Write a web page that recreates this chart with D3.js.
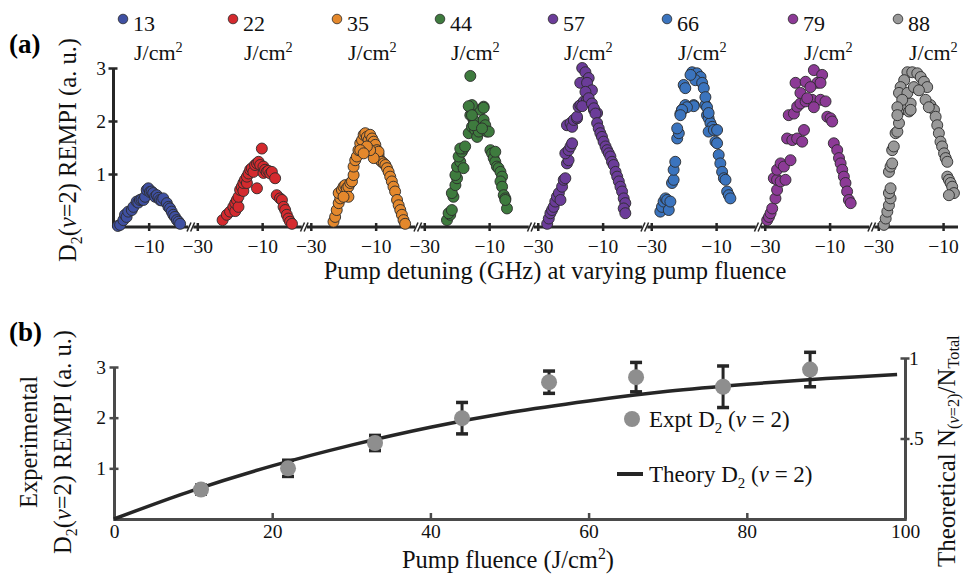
<!DOCTYPE html>
<html>
<head>
<meta charset="utf-8">
<script src="https://cdn.jsdelivr.net/npm/d3@7"></script>
<style>
  body { margin: 0; background: #fff; }
  svg { display: block; font-family: "Liberation Serif", "Times New Roman", serif; }
  svg text { font-family: "Liberation Serif", "Times New Roman", serif; }
</style>
</head>
<body>
<svg id="fig" width="963" height="575"></svg>
<script>
// ---------- Panel (a): REMPI signal vs pump detuning, one scan per fluence ----------
const fluencesA = [13, 22, 35, 44, 57, 66, 79, 88];           // J/cm^2
const detuningTicks = [-30, -10];                              // GHz
const signalTicksA = [1, 2, 3];

// [detuning (GHz), D2(v=2) REMPI (a.u.)]
const scan13 = [[-19.5,0.02],[-18.8,0.04],[-17.8,0.13],[-17.3,0.23],[-16.8,0.19],[-16.3,0.29],[-15.2,0.32],[-14.7,0.38],
  [-13.7,0.48],[-13.2,0.46],[-12.7,0.51],[-12.2,0.52],[-11.6,0.51],[-11.1,0.57],[-10.6,0.70],[-10.1,0.73],[-9.6,0.66],[-9.1,0.67],
  [-8.6,0.64],[-8.0,0.57],[-7.5,0.60],[-7.0,0.55],[-6.5,0.51],[-6.0,0.50],[-5.5,0.54],[-4.4,0.45],[-3.9,0.38],[-3.4,0.35],
  [-2.9,0.29],[-2.4,0.23],[-1.9,0.19],[-1.3,0.13],[-0.8,0.10],[-0.3,0.06]];
const scan22 = [[-22.2,0.13],[-20.9,0.23],[-19.9,0.29],[-18.9,0.38],[-18.3,0.30],[-18.3,0.45],[-17.8,0.51],[-17.3,0.38],[-17.3,0.57],
  [-16.8,0.70],[-16.3,0.76],[-15.8,0.68],[-15.8,0.83],[-15.3,0.89],[-14.7,0.83],[-14.7,0.95],[-14.2,1.01],[-13.7,1.08],[-13.2,1.11],
  [-12.7,1.04],[-11.6,0.73],[-12.2,1.17],[-11.6,1.20],[-11.1,1.23],[-10.6,1.17],[-10.1,1.48],[-9.6,1.14],[-9.6,1.02],[-9.1,1.08],
  [-8.6,1.04],[-8.1,1.06],[-7.5,1.01],[-7.0,1.04],[-6.0,0.92],[-5.5,0.60],[-4.5,0.54],[-3.9,0.51],[-3.4,0.38],[-2.9,0.32],
  [-2.4,0.23],[-1.9,0.16],[-1.4,0.10],[-0.8,0.06]];
const scan35 = [[-23.0,0.10],[-22.5,0.19],[-22.0,0.32],[-21.4,0.45],[-20.9,0.54],[-21.4,0.64],[-20.4,0.70],[-19.9,0.76],[-19.4,0.79],
  [-18.9,0.73],[-18.4,0.76],[-17.8,0.83],[-17.3,0.86],[-18.4,0.57],[-19.9,0.57],[-16.8,0.98],[-16.8,1.14],[-16.3,1.26],[-15.8,1.33],
  [-15.3,1.45],[-14.75,1.58],[-14.2,1.64],[-13.7,1.74],[-13.2,1.77],[-12.7,1.70],[-12.2,1.64],[-11.7,1.74],[-11.1,1.67],[-10.6,1.61],
  [-10.1,1.55],[-9.6,1.45],[-9.1,1.36],[-8.6,1.26],[-9.1,1.42],[-8.1,1.23],[-7.5,1.20],[-7.0,1.17],[-6.5,1.11],[-6.0,1.04],[-5.5,0.95],
  [-5.0,0.86],[-4.5,0.76],[-4.0,0.67],[-3.4,0.51],[-2.9,0.41],[-2.4,0.32],[-1.9,0.23],[-1.4,0.13],[-0.9,0.06],[-10.6,1.30],
  [-11.7,1.45],[-12.7,1.52],[-14.75,1.45],[-13.7,1.39]];
const scan44 = [[-23.0,0.13],[-22.0,0.23],[-22.5,0.26],[-21.5,0.32],[-21.0,0.57],[-21.5,0.64],[-20.4,0.79],[-19.9,0.92],[-20.4,0.98],
  [-19.9,1.14],[-18.9,1.23],[-19.4,1.33],[-18.4,1.42],[-17.9,1.48],[-18.9,1.48],[-17.4,1.52],[-17.9,1.11],[-16.3,1.77],[-15.3,1.89],
  [-14.8,2.02],[-15.8,2.11],[-15.3,2.21],[-14.3,1.83],[-13.7,1.70],[-13.2,1.80],[-14.8,1.92],[-12.7,2.21],[-11.7,2.27],[-11.7,2.02],
  [-11.2,1.92],[-10.7,1.80],[-10.1,1.80],[-12.2,1.86],[-9.6,1.45],[-9.1,1.39],[-8.6,1.30],[-8.1,1.23],[-7.6,1.14],[-7.1,1.11],
  [-6.5,1.04],[-6.0,0.95],[-6.5,0.86],[-6.0,0.76],[-5.5,0.60],[-5.0,0.54],[-4.5,0.35],[-5.0,0.51],[-8.1,1.42],[-15.8,2.85],
  [-15.3,2.30],[-16.3,2.28],[-11.7,2.25],[-15.3,2.11]];
const scan57 = [[-27.1,0.06],[-26.6,0.16],[-26.1,0.26],[-25.6,0.32],[-25.1,0.38],[-24.6,0.48],[-24.1,0.57],[-23.5,0.64],[-23.0,0.51],
  [-22.5,0.76],[-22.0,0.89],[-21.5,0.92],[-21.0,1.20],[-20.5,1.26],[-21.5,1.39],[-20.5,1.45],[-19.9,1.52],[-19.4,1.58],[-21.0,1.92],
  [-19.9,1.96],[-19.4,1.89],[-18.9,2.02],[-17.9,2.05],[-17.9,2.08],[-17.4,2.27],[-16.85,2.30],[-15.8,2.37],[-14.8,2.40],[-16.3,3.00],
  [-15.3,2.92],[-14.3,2.81],[-16.9,2.72],[-14.8,2.72],[-13.3,2.58],[-15.3,2.55],[-14.3,2.43],[-11.7,2.15],[-16.3,2.28],[-12.7,2.21],
  [-13.3,2.33],[-12.7,2.24],[-12.2,2.14],[-11.7,1.96],[-11.2,1.86],[-10.7,1.77],[-10.2,1.70],[-9.7,1.61],[-9.1,1.52],[-8.6,1.45],
  [-8.1,1.39],[-7.6,1.33],[-7.1,1.23],[-6.6,1.17],[-6.0,1.04],[-5.5,0.95],[-5.0,0.86],[-4.5,0.76],[-4.0,0.67],[-3.5,0.54],
  [-3.0,0.45],[-3.5,0.35],[-3.0,0.26]];
const scan66 = [[-27.2,0.29],[-26.7,0.38],[-26.2,0.48],[-25.6,0.54],[-25.1,0.51],[-24.6,0.32],[-24.1,0.48],[-23.6,0.83],[-23.1,0.89],
  [-23.1,1.08],[-22.6,1.23],[-22.0,1.67],[-21.5,1.77],[-22.0,1.86],[-21.0,2.14],[-20.5,2.21],[-19.5,2.30],[-16.9,2.30],[-13.3,2.30],
  [-12.8,2.11],[-12.3,2.05],[-11.75,1.96],[-11.2,1.89],[-12.3,1.80],[-10.7,1.83],[-9.7,1.83],[-10.2,1.61],[-9.7,1.58],[-9.2,1.36],
  [-8.7,1.20],[-8.15,1.04],[-7.6,0.92],[-7.1,0.89],[-6.6,0.67],[-6.1,0.60],[-5.6,0.54],[-17.4,2.92],[-15.9,2.90],[-14.8,2.83],
  [-16.4,2.77],[-14.3,2.72],[-13.8,2.62],[-20.0,2.68],[-19.5,2.62],[-17.9,2.87],[-13.3,2.45],[-12.8,2.26],[-16.9,2.28],[-19.0,2.26],
  [-20.5,2.21],[-21.0,2.11],[-12.3,2.15]];
const scan79 = [[-29.25,0.13],[-28.7,0.19],[-28.2,0.26],[-27.7,0.35],[-26.7,0.54],[-26.2,0.70],[-27.2,0.92],[-26.2,0.89],[-25.1,0.86],
  [-23.6,0.89],[-26.2,1.08],[-25.1,1.20],[-24.1,1.14],[-22.05,1.26],[-23.1,1.67],[-21.5,1.64],[-20.0,1.67],[-18.45,1.61],[-17.9,1.83],
  [-22.6,2.11],[-21.0,2.14],[-20.0,2.27],[-19.0,2.33],[-17.4,2.37],[-15.4,2.40],[-12.8,2.40],[-11.25,2.37],[-10.7,2.08],[-9.7,2.05],
  [-9.2,1.99],[-8.7,1.58],[-7.65,1.45],[-7.1,1.30],[-6.6,1.20],[-6.1,1.08],[-5.6,0.95],[-5.1,0.83],[-4.6,0.67],[-4.05,0.51],
  [-3.5,0.45],[-20.5,2.72],[-17.4,2.74],[-14.85,2.96],[-12.3,2.87],[-13.8,2.72],[-15.9,2.64],[-12.8,2.72],[-19.0,2.53],
  [-16.9,2.43],[-14.85,2.26]];
const scan88 = [[-28.25,0.04],[-27.7,0.16],[-27.2,0.29],[-26.7,0.41],[-26.2,0.54],[-26.7,0.64],[-26.2,0.73],[-26.7,1.04],[-26.2,1.14],
  [-25.7,1.20],[-25.7,1.45],[-25.2,1.52],[-24.65,1.77],[-24.1,1.80],[-23.6,1.96],[-23.1,2.21],[-22.1,2.24],[-21.0,2.27],[-20.5,2.18],
  [-20.0,2.33],[-13.9,2.30],[-12.8,2.21],[-12.3,2.08],[-11.8,1.92],[-11.3,1.77],[-10.8,1.61],[-10.3,1.52],[-9.7,1.39],[-9.2,1.30],
  [-8.7,1.23],[-8.7,0.95],[-8.2,0.89],[-7.7,0.83],[-7.2,0.76],[-6.65,0.64],[-8.2,0.60],[-21.0,2.92],[-19.5,2.92],[-17.95,2.90],
  [-16.9,2.83],[-15.9,2.74],[-14.9,2.64],[-22.0,2.77],[-23.1,2.64],[-23.6,2.53],[-21.0,2.53],[-19.0,2.64],[-17.45,2.58],
  [-22.6,2.40],[-24.1,2.26],[-15.4,2.40],[-14.4,2.26],[-24.1,2.11],[-20.0,2.21]];
const scansA = [scan13, scan22, scan35, scan44, scan57, scan66, scan79, scan88];

// ---------- Panel (b): experimental REMPI and theoretical population vs fluence ----------
const fluenceB = [11, 22, 33, 44, 55, 66, 77, 88];
const exptSignal = [0.58, 1.00, 1.50, 1.99, 2.70, 2.80, 2.61, 2.95];
const exptError = [0.09, 0.16, 0.15, 0.31, 0.22, 0.29, 0.41, 0.34];
const theoryFluence = [0, 10, 20, 30, 40, 50, 60, 70, 80, 90, 99];
const theoryFraction = [0, 0.178, 0.330, 0.459, 0.570, 0.661, 0.733, 0.793, 0.837, 0.872, 0.897];
const fluenceTicks = [0, 20, 40, 60, 80, 100];
const signalTicksB = [1, 2, 3];
const fractionTicks = [0.5, 1];

// ---------- styling ----------
const scanColors = ["#3f50a2", "#d42a2e", "#e4882c", "#3e7b3e", "#6b3c99", "#3b74be", "#8c3a96", "#999999"];
const legendX = [123, 233, 337, 440, 553, 667, 793, 898];
const axisDark = "#262626", axisGrey = "#4a4a4a";
const serif = "Liberation Serif, Times New Roman, serif";
const fsTitle = 24.5, fsTick = 19.5, fsLegend = 22;

const svg = d3.select("#fig");

// text with sub/superscripts and italics
function richText(sel, parts, fs, subShift = 0.25) {
  let shift = 0;
  parts.forEach(p => {
    const ts = sel.append("tspan").text(p.t);
    let target = 0;
    if (p.sub) { target = fs * subShift; ts.attr("font-size", fs * 0.65); }
    if (p.sup) { target = -fs * 0.38; ts.attr("font-size", fs * 0.65); }
    if (p.it) ts.attr("font-style", "italic");
    if (target !== shift) { ts.attr("dy", target - shift); shift = target; }
  });
  return sel;
}

function styleAxis(ax, color, tickIn, tickOut, horizontal) {
  ax.attr("font-family", serif).attr("font-size", fsTick);
  ax.selectAll(".tick line").attr("stroke", color).attr("stroke-width", 2.5)
    .attr(horizontal ? "y1" : "x1", -tickIn).attr(horizontal ? "y2" : "x2", tickOut);
  ax.selectAll(".tick text").attr("fill", "#111");
}

// ================= Panel (a) =================
const SEG = 35;                    // GHz of shared axis given to each scan
const segLo = [-21, -32, -32, -32, -32, -32, -32, -32];
const segHi = [3, 3, 3, 3, 3, 3, 3, -5.4];
const xA = d3.scaleLinear().domain([segLo[0], segHi[7] + SEG * 7]).range([113, 958]);
const yA = d3.scaleLinear().domain([0, 3]).range([227, 68]);
const gA = svg.append("g");

// broken x axis
fluencesA.forEach((f, i) => {
  const x0 = xA(segLo[i] + SEG * i) + (i > 0 ? 2.5 : 0);
  const x1 = xA(segHi[i] + SEG * i) - (i < 7 ? 2.5 : 0);
  gA.append("line").attr("x1", x0).attr("x2", x1).attr("y1", yA(0)).attr("y2", yA(0))
    .attr("stroke", axisDark).attr("stroke-width", 3);
  const segScale = d3.scaleLinear().domain([segLo[i], segHi[i]])
    .range([xA(segLo[i] + SEG * i), xA(segHi[i] + SEG * i)]);
  const ax = gA.append("g").attr("transform", `translate(0,${yA(0)})`)
    .call(d3.axisBottom(segScale).tickValues(detuningTicks.filter(t => t >= segLo[i]))
      .tickSizeOuter(0).tickFormat(d3.format("d")));
  ax.select(".domain").remove();
  styleAxis(ax, axisDark, 4, 4, true);
  ax.selectAll(".tick text").attr("y", 12);
  if (i < 7) {
    const bx = xA(segHi[i] + SEG * i);
    [-1.8, 1.8].forEach(o => gA.append("line")
      .attr("x1", bx + o - 2).attr("y1", yA(0) + 4.5).attr("x2", bx + o + 2).attr("y2", yA(0) - 4.5)
      .attr("stroke", axisDark).attr("stroke-width", 1.5));
  }
});

// y axis
const ayA = gA.append("g").attr("transform", `translate(${xA(segLo[0])},0)`)
  .call(d3.axisLeft(yA).tickValues(signalTicksA).tickSizeOuter(0).tickFormat(d3.format("d")));
ayA.select(".domain").attr("stroke", axisDark).attr("stroke-width", 3);
styleAxis(ayA, axisDark, 4.5, 4.5, false);
ayA.selectAll(".tick text").attr("x", -7);

// scans
scansA.forEach((scan, i) => {
  gA.append("g").selectAll("circle").data(scan).join("circle")
    .attr("cx", d => xA(d[0] + SEG * i)).attr("cy", d => yA(d[1])).attr("r", 5.5)
    .attr("fill", scanColors[i]).attr("stroke", "#2b2b2b").attr("stroke-width", 0.9);
});

// fluence legend
fluencesA.forEach((f, i) => {
  const lx = legendX[i];
  gA.append("circle").attr("cx", lx).attr("cy", 19).attr("r", 4.8)
    .attr("fill", scanColors[i]).attr("stroke", "#2b2b2b").attr("stroke-width", 0.8);
  gA.append("text").attr("x", lx + 10).attr("y", 31).attr("font-size", fsLegend).attr("fill", "#111").text(f);
  richText(gA.append("text").attr("x", lx + 11).attr("y", 60).attr("font-size", fsLegend).attr("fill", "#111"),
    [{ t: "J/cm" }, { t: "2", sup: true }], fsLegend);
});

// titles
svg.append("text").attr("x", 9).attr("y", 53).attr("font-size", 27).attr("font-weight", "bold").text("(a)");
richText(svg.append("text").attr("transform", "translate(76,150) rotate(-90)").attr("text-anchor", "middle")
  .attr("font-size", fsTitle).attr("fill", "#111"),
  [{ t: "D" }, { t: "2", sub: true }, { t: "(" }, { t: "v", it: true }, { t: "=2) REMPI (a. u.)" }], fsTitle);
svg.append("text").attr("x", 555).attr("y", 279).attr("text-anchor", "middle").attr("font-size", fsTitle)
  .attr("fill", "#111").text("Pump detuning (GHz) at varying pump fluence");

// ================= Panel (b) =================
const xB = d3.scaleLinear().domain([0, 100]).range([114, 905]);
const yB = d3.scaleLinear().domain([0, 3]).range([519, 367]);
const yR = d3.scaleLinear().domain([0, 1]).range([519, 358]);
const gB = svg.append("g");

const axB = gB.append("g").attr("transform", `translate(0,${yB(0)})`)
  .call(d3.axisBottom(xB).tickValues(fluenceTicks).tickSizeOuter(0).tickFormat(d3.format("d")));
axB.select(".domain").attr("stroke", axisGrey).attr("stroke-width", 3);
styleAxis(axB, axisGrey, 6, 2, true);
axB.selectAll(".tick text").attr("y", 5);

const ayB = gB.append("g").attr("transform", `translate(${xB(0)},0)`)
  .call(d3.axisLeft(yB).tickValues(signalTicksB).tickSizeOuter(0).tickFormat(d3.format("d")));
ayB.select(".domain").attr("stroke", axisGrey).attr("stroke-width", 3);
styleAxis(ayB, axisGrey, 4.5, 4.5, false);
ayB.selectAll(".tick text").attr("x", -8);

const ayR = gB.append("g").attr("transform", `translate(${xB(100)},0)`)
  .call(d3.axisRight(yR).tickValues(fractionTicks).tickSizeOuter(0).tickFormat(d => d === 1 ? "1" : ".5"));
ayR.select(".domain").attr("stroke", axisGrey).attr("stroke-width", 3);
styleAxis(ayR, axisGrey, 4.5, 4.5, false);
ayR.selectAll(".tick text").attr("x", 4);

// theory curve
const theory = theoryFluence.map((f, i) => [f, theoryFraction[i]]);
gB.append("path").datum(theory)
  .attr("d", d3.line().x(d => xB(d[0])).y(d => yR(d[1])).curve(d3.curveCatmullRom))
  .attr("fill", "none").attr("stroke", "#262626").attr("stroke-width", 3.5);

// experimental points with error bars
const expt = fluenceB.map((f, i) => ({ f, v: exptSignal[i], e: exptError[i] }));
const eb = gB.append("g").attr("stroke", "#262626");
expt.forEach(d => {
  const x = xB(d.f), yt = yB(d.v + d.e), yb = yB(d.v - d.e);
  eb.append("line").attr("x1", x).attr("x2", x).attr("y1", yt).attr("y2", yb).attr("stroke-width", 3);
  [yt, yb].forEach(y => eb.append("line").attr("x1", x - 6).attr("x2", x + 6).attr("y1", y).attr("y2", y).attr("stroke-width", 3.5));
});
gB.append("g").selectAll("circle").data(expt).join("circle")
  .attr("cx", d => xB(d.f)).attr("cy", d => yB(d.v)).attr("r", 8).attr("fill", "#8e8e8e");

// legend
gB.append("circle").attr("cx", 632).attr("cy", 419).attr("r", 8).attr("fill", "#8e8e8e");
richText(gB.append("text").attr("x", 649).attr("y", 427).attr("font-size", 23).attr("fill", "#111"),
  [{ t: "Expt D" }, { t: "2", sub: true }, { t: " (" }, { t: "v", it: true }, { t: " = 2)" }], 23);
gB.append("line").attr("x1", 617).attr("x2", 643).attr("y1", 474).attr("y2", 474).attr("stroke", "#262626").attr("stroke-width", 4);
richText(gB.append("text").attr("x", 649).attr("y", 482).attr("font-size", 23).attr("fill", "#111"),
  [{ t: "Theory D" }, { t: "2", sub: true }, { t: " (" }, { t: "v", it: true }, { t: " = 2)" }], 23);

// titles
svg.append("text").attr("x", 9).attr("y", 341).attr("font-size", 27).attr("font-weight", "bold").text("(b)");
svg.append("text").attr("transform", "translate(37,442) rotate(-90)").attr("text-anchor", "middle")
  .attr("font-size", fsTitle).attr("fill", "#111").text("Experimental");
richText(svg.append("text").attr("transform", "translate(71,442) rotate(-90)").attr("text-anchor", "middle")
  .attr("font-size", fsTitle).attr("fill", "#111"),
  [{ t: "D" }, { t: "2", sub: true }, { t: "(" }, { t: "v", it: true }, { t: "=2) REMPI (a. u.)" }], fsTitle);
richText(svg.append("text").attr("x", 508).attr("y", 568).attr("text-anchor", "middle")
  .attr("font-size", fsTitle).attr("fill", "#111"),
  [{ t: "Pump fluence (J/cm" }, { t: "2", sup: true }, { t: ")" }], fsTitle);

// right-hand axis title
richText(svg.append("text")
  .attr("transform", "translate(955,567) rotate(-90)").attr("font-size", 25).attr("fill", "#111"),
  [{ t: "Theoretical N" }, { t: "(", sub: true }, { t: "v", sub: true, it: true }, { t: "=2)", sub: true },
   { t: "/N" }, { t: "Total", sub: true }], 25, 0.17);
</script>
</body>
</html>
